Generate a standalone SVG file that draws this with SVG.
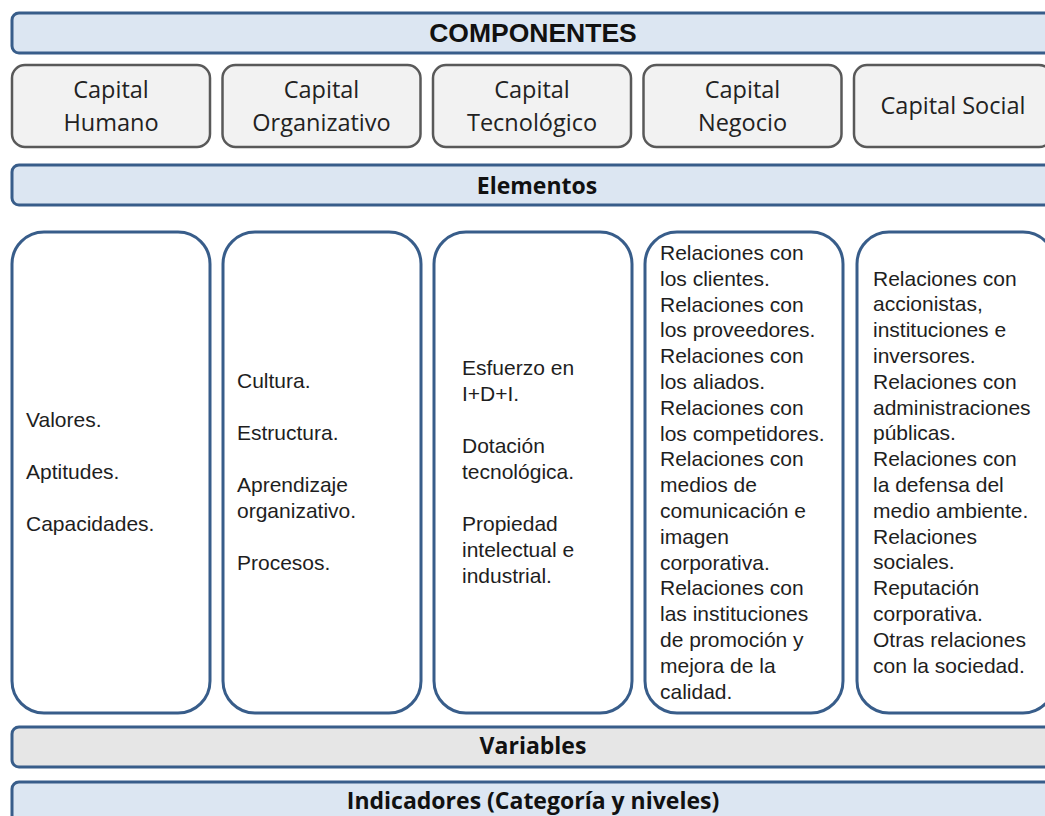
<svg xmlns="http://www.w3.org/2000/svg" width="1045" height="816" viewBox="0 0 1045 816">
<style>
.bar{fill:#dce6f2;stroke:#385d8a;stroke-width:3}
.bar-gray{fill:#e6e6e6;stroke:#385d8a;stroke-width:3}
.cap{fill:#f2f2f2;stroke:#595959;stroke-width:2.5}
.elem{fill:#ffffff;stroke:#385d8a;stroke-width:3}
.head{font-family:"Open Sans","Noto Sans",sans-serif;font-weight:bold;font-size:23px;fill:#111;text-anchor:middle}
.head-a{font-family:"Liberation Sans",Arial,sans-serif;font-weight:bold;font-size:26.5px;fill:#111;text-anchor:middle}
.capt{font-family:"Open Sans","Noto Sans",sans-serif;font-size:23.5px;fill:#222;text-anchor:middle}
.body{font-family:"Liberation Sans",Arial,sans-serif;font-size:21px;fill:#1e1e1e}
</style>
<rect width="1045" height="816" fill="#ffffff"/>

<g id="componentes">
<rect class="bar" x="12" y="13" width="1060" height="40" rx="7"/>
<text class="head-a" x="533" y="42">COMPONENTES</text>
</g>

<g id="capital-humano">
<rect class="cap" x="12" y="65" width="198" height="82" rx="13"/>
<text class="capt" x="111" y="98">Capital</text>
<text class="capt" x="111" y="131">Humano</text>
</g>
<g id="capital-organizativo">
<rect class="cap" x="222.5" y="65" width="198" height="82" rx="13"/>
<text class="capt" x="321.5" y="98">Capital</text>
<text class="capt" x="321.5" y="131">Organizativo</text>
</g>
<g id="capital-tecnologico">
<rect class="cap" x="433" y="65" width="198" height="82" rx="13"/>
<text class="capt" x="532" y="98">Capital</text>
<text class="capt" x="532" y="131">Tecnológico</text>
</g>
<g id="capital-negocio">
<rect class="cap" x="643.5" y="65" width="198" height="82" rx="13"/>
<text class="capt" x="742.5" y="98">Capital</text>
<text class="capt" x="742.5" y="131">Negocio</text>
</g>
<g id="capital-social">
<rect class="cap" x="854" y="65" width="198" height="82" rx="13"/>
<text class="capt" x="953" y="114">Capital Social</text>
</g>

<g id="elementos">
<rect class="bar" x="12" y="165" width="1060" height="40" rx="7"/>
<text class="head" x="537" y="194">Elementos</text>
</g>

<g id="elem-humano">
<rect class="elem" x="12" y="232" width="198" height="481" rx="32"/>
<text class="body" x="26" y="427">Valores.</text>
<text class="body" x="26" y="479">Aptitudes.</text>
<text class="body" x="26" y="531">Capacidades.</text>
</g>

<g id="elem-organizativo">
<rect class="elem" x="223" y="232" width="198" height="481" rx="32"/>
<text class="body" x="237" y="388">Cultura.</text>
<text class="body" x="237" y="440">Estructura.</text>
<text class="body" x="237" y="492">Aprendizaje</text>
<text class="body" x="237" y="518">organizativo.</text>
<text class="body" x="237" y="570">Procesos.</text>
</g>

<g id="elem-tecnologico">
<rect class="elem" x="434" y="232" width="198" height="481" rx="32"/>
<text class="body" x="462" y="375">Esfuerzo en</text>
<text class="body" x="462" y="401">I+D+I.</text>
<text class="body" x="462" y="453">Dotación</text>
<text class="body" x="462" y="479">tecnológica.</text>
<text class="body" x="462" y="531">Propiedad</text>
<text class="body" x="462" y="557">intelectual e</text>
<text class="body" x="462" y="583">industrial.</text>
</g>

<g id="elem-negocio">
<rect class="elem" x="645" y="232" width="198" height="481" rx="32"/>
<text class="body" x="660" y="260">Relaciones con</text>
<text class="body" x="660" y="285.8">los clientes.</text>
<text class="body" x="660" y="311.6">Relaciones con</text>
<text class="body" x="660" y="337.4">los proveedores.</text>
<text class="body" x="660" y="363.2">Relaciones con</text>
<text class="body" x="660" y="389">los aliados.</text>
<text class="body" x="660" y="414.8">Relaciones con</text>
<text class="body" x="660" y="440.6">los competidores.</text>
<text class="body" x="660" y="466.4">Relaciones con</text>
<text class="body" x="660" y="492.2">medios de</text>
<text class="body" x="660" y="518">comunicación e</text>
<text class="body" x="660" y="543.8">imagen</text>
<text class="body" x="660" y="569.6">corporativa.</text>
<text class="body" x="660" y="595.4">Relaciones con</text>
<text class="body" x="660" y="621.2">las instituciones</text>
<text class="body" x="660" y="647">de promoción y</text>
<text class="body" x="660" y="672.8">mejora de la</text>
<text class="body" x="660" y="698.6">calidad.</text>
</g>

<g id="elem-social">
<rect class="elem" x="857" y="232" width="198" height="481" rx="32"/>
<text class="body" x="873" y="285.5">Relaciones con</text>
<text class="body" x="873" y="311.3">accionistas,</text>
<text class="body" x="873" y="337.1">instituciones e</text>
<text class="body" x="873" y="362.9">inversores.</text>
<text class="body" x="873" y="388.7">Relaciones con</text>
<text class="body" x="873" y="414.5">administraciones</text>
<text class="body" x="873" y="440.3">públicas.</text>
<text class="body" x="873" y="466.1">Relaciones con</text>
<text class="body" x="873" y="491.9">la defensa del</text>
<text class="body" x="873" y="517.7">medio ambiente.</text>
<text class="body" x="873" y="543.5">Relaciones</text>
<text class="body" x="873" y="569.3">sociales.</text>
<text class="body" x="873" y="595.1">Reputación</text>
<text class="body" x="873" y="620.9">corporativa.</text>
<text class="body" x="873" y="646.7">Otras relaciones</text>
<text class="body" x="873" y="672.5">con la sociedad.</text>
</g>

<g id="variables">
<rect class="bar-gray" x="12" y="727" width="1060" height="40" rx="7"/>
<text class="head" x="533" y="754">Variables</text>
</g>

<g id="indicadores">
<rect class="bar" x="12" y="782" width="1060" height="44" rx="7"/>
<text class="head" x="533" y="809">Indicadores (Categoría y niveles)</text>
</g>

<g id="connectors"></g>
</svg>
